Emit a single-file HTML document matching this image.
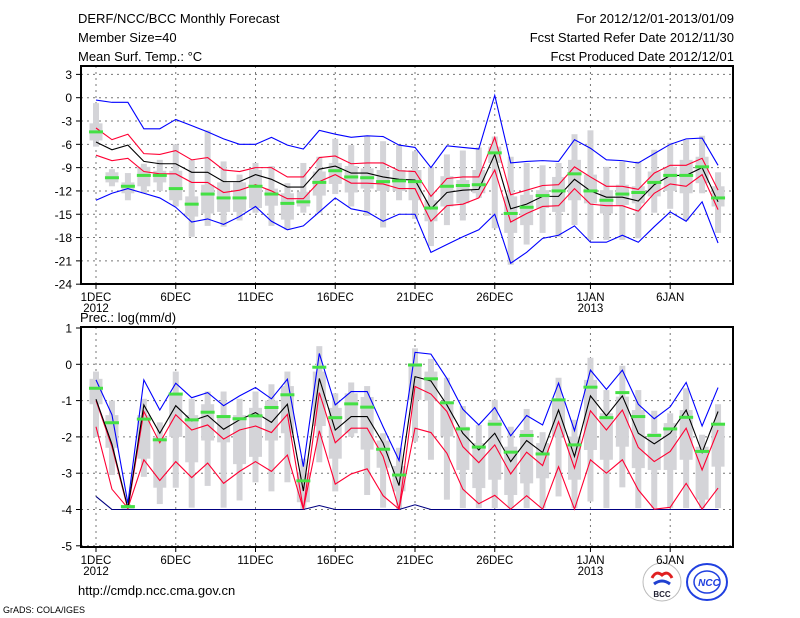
<!DOCTYPE html>
<html><head><meta charset="utf-8"><style>
html,body{margin:0;padding:0;background:#fff;}
svg{display:block;font-family:"Liberation Sans",sans-serif;}
</style></head><body>
<svg id="c" width="800" height="618" viewBox="0 0 800 618">
<text x="78" y="23" font-size="13">DERF/NCC/BCC Monthly Forecast</text>
<text x="78" y="42" font-size="13">Member Size=40</text>
<text x="78" y="61" font-size="13">Mean Surf. Temp.: °C</text>
<text x="734" y="23" font-size="13" text-anchor="end">For 2012/12/01-2013/01/09</text>
<text x="734" y="42" font-size="13" text-anchor="end">Fcst Started Refer Date 2012/11/30</text>
<text x="734" y="61" font-size="13" text-anchor="end">Fcst Produced Date 2012/12/01</text>
<text x="80" y="322" font-size="13">Prec.: log(mm/d)</text>
<text x="78" y="595" font-size="13">http://cmdp.ncc.cma.gov.cn</text>
<text x="3" y="613" font-size="9">GrADS: COLA/IGES</text>
<g>
<circle cx="662" cy="582" r="19" fill="#fff" stroke="#bbb"/>
<path d="M652 578 q4 -8 10 -3 q6 -5 10 3" fill="none" stroke="#e02020" stroke-width="3"/>
<path d="M654 584 q8 -6 16 0" fill="none" stroke="#2040d0" stroke-width="3"/>
<text x="662" y="597" font-size="8" font-weight="bold" text-anchor="middle" fill="#223">BCC</text>
</g>
<g>
<ellipse cx="707" cy="582" rx="20" ry="18" fill="#fff" stroke="#2040e0" stroke-width="2"/>
<ellipse cx="707" cy="582" rx="13" ry="11" fill="none" stroke="#2040e0" stroke-width="1.5"/>
<text x="709" y="586" font-size="10" font-style="italic" font-weight="bold" text-anchor="middle" fill="#2040e0">NCC</text>
</g>
</svg>
<script>
// ---------- Temperature data ----------
const days = ["1DEC","2","3","4","5","6DEC","7","8","9","10","11DEC","12","13","14","15","16DEC","17","18","19","20","21DEC","22","23","24","25","26DEC","27","28","29","30","31","1JAN","2","3","4","5","6JAN","7","8","9"];
const tMax = [-0.3,-0.6,-0.6,-4.0,-4.0,-2.8,-3.6,-4.4,-5.3,-6.0,-6.0,-5.1,-6.1,-6.6,-4.2,-4.7,-5.1,-4.9,-5.0,-6.1,-6.4,-9.0,-6.2,-6.4,-6.6,0.3,-8.4,-8.2,-8.1,-8.2,-5.4,-6.5,-8.0,-8.1,-8.4,-7.2,-6.0,-5.3,-5.2,-8.7];
const tUp = [-3.9,-5.4,-4.7,-7.2,-7.3,-6.8,-8.0,-7.7,-9.3,-9.5,-9.0,-9.0,-10.2,-10.2,-7.7,-7.5,-8.5,-8.4,-8.4,-9.4,-9.5,-12.7,-10.4,-10.2,-10.2,-5.1,-12.5,-11.9,-11.3,-11.2,-8.9,-10.2,-11.4,-11.4,-11.8,-9.7,-8.7,-8.7,-7.8,-11.9];
const tMean = [-5.7,-6.7,-6.1,-8.2,-8.5,-8.5,-9.6,-9.6,-10.8,-10.8,-9.9,-10.5,-11.5,-11.5,-9.2,-8.8,-9.7,-9.7,-10.2,-10.5,-10.6,-14.3,-12.2,-11.9,-11.8,-7.3,-14.3,-13.7,-12.7,-12.7,-10.5,-12.0,-12.8,-12.8,-13.3,-11.2,-10.0,-10.0,-9.0,-13.4];
const tLow = [-7.4,-8.1,-7.8,-9.5,-9.8,-9.8,-10.9,-10.9,-12.2,-11.9,-11.2,-12.0,-13.0,-13.0,-10.8,-9.9,-11.0,-11.0,-11.1,-11.7,-11.7,-15.9,-13.9,-13.7,-12.9,-9.3,-16.0,-14.9,-14.0,-13.9,-11.7,-13.7,-13.9,-13.9,-14.6,-12.3,-11.1,-11.4,-9.9,-14.4];
const tMin = [-13.2,-12.3,-11.7,-12.3,-12.9,-14.1,-16.0,-15.6,-16.3,-15.3,-14.0,-15.9,-17.0,-16.5,-14.7,-12.9,-14.3,-14.7,-15.9,-15.0,-15.0,-19.9,-18.9,-17.9,-17.0,-15.0,-21.3,-19.9,-18.1,-17.7,-16.5,-18.6,-18.6,-17.7,-18.6,-16.6,-14.7,-15.9,-13.4,-18.7];
const tObs = [-4.4,-10.3,-11.4,-10.0,-10.0,-11.7,-13.7,-12.4,-12.9,-12.9,-11.4,-12.4,-13.6,-13.4,-10.9,-9.4,-10.2,-10.3,-10.8,-10.7,-10.8,-14.2,-11.4,-11.3,-11.2,-7.1,-14.9,-14.1,-12.6,-12.0,-9.8,-12.0,-13.2,-12.4,-12.2,-10.9,-10.0,-10.0,-8.9,-12.9];
const tWhHi = [-0.7,-9.2,-9.7,-8.5,-8.0,-6.0,-8.0,-4.2,-8.2,-9.9,-8.4,-8.8,-11.0,-8.4,-7.6,-5.3,-6.1,-5.0,-5.6,-6.1,-6.9,-8.9,-7.3,-6.8,-6.4,-5.0,-7.6,-8.4,-8.7,-8.4,-4.7,-4.2,-8.9,-8.2,-8.2,-6.7,-5.8,-5.4,-4.9,-9.6];
const tWhLo = [-6.3,-11.4,-13.2,-12.3,-12.0,-14.0,-17.9,-16.5,-16.6,-15.8,-14.8,-16.5,-17.0,-14.8,-14.8,-12.4,-14.0,-15.2,-16.7,-13.2,-15.6,-19.1,-16.4,-15.8,-12.9,-16.8,-21.5,-18.9,-17.4,-17.9,-16.4,-18.3,-18.3,-18.3,-18.1,-14.8,-14.3,-15.8,-12.3,-17.4];
const tBxHi = [-3.3,-9.6,-10.9,-8.9,-9.4,-9.4,-12.7,-11.2,-10.9,-10.9,-9.3,-11.7,-12.3,-12.1,-9.5,-8.4,-8.8,-9.1,-9.3,-9.3,-9.3,-13.2,-10.1,-10.6,-9.3,-6.3,-12.7,-12.5,-11.9,-10.2,-8.0,-9.9,-11.9,-11.2,-11.4,-9.5,-8.9,-8.0,-7.6,-11.4];
const tBxLo = [-5.5,-10.9,-12.3,-11.4,-10.9,-13.2,-15.3,-14.9,-14.7,-14.7,-14.2,-13.9,-15.7,-14.0,-12.6,-11.1,-12.2,-11.7,-12.0,-12.0,-13.2,-15.9,-14.0,-13.6,-12.3,-8.4,-17.4,-16.4,-14.2,-14.7,-13.2,-13.6,-14.9,-13.8,-13.6,-12.7,-12.0,-12.3,-11.0,-14.0];
const tTicks = [3,0,-3,-6,-9,-12,-15,-18,-21,-24];
// ---------- Precipitation data ----------
const pMax = [-0.43,-1.39,-3.83,-0.43,-1.26,-0.52,-0.92,-0.78,-1.14,-0.87,-0.64,-0.95,-0.41,-2.82,0.3,-1.12,-0.75,-0.75,-1.72,-2.65,0.33,0.28,-0.39,-1.24,-1.67,-1.19,-1.97,-1.41,-1.67,-0.52,-1.83,-0.16,-0.69,-0.16,-1.1,-1.5,-1.17,-0.5,-1.7,-0.64];
const pUp = [-1.0,-2.27,-3.99,-1.3,-2.16,-1.39,-1.81,-1.67,-2.06,-1.81,-1.7,-1.88,-1.38,-3.99,-0.78,-2.16,-1.76,-1.76,-2.54,-3.99,-0.61,-0.82,-1.3,-2.27,-2.71,-2.22,-3.02,-2.42,-2.79,-1.58,-2.86,-1.28,-1.81,-1.26,-2.29,-2.68,-2.4,-1.76,-2.91,-1.81];
const pMean = [-0.96,-2.2,-3.96,-1.12,-1.9,-1.14,-1.56,-1.41,-1.79,-1.53,-1.33,-1.6,-1.1,-3.49,-0.39,-1.81,-1.44,-1.44,-2.17,-3.34,-0.34,-0.46,-1.12,-1.9,-2.36,-1.9,-2.68,-2.1,-2.43,-1.26,-2.54,-0.87,-1.42,-0.87,-1.9,-2.19,-1.9,-1.26,-2.43,-1.3];
const pLow = [-1.72,-3.44,-3.96,-2.63,-3.2,-2.68,-3.12,-2.72,-3.28,-2.95,-2.68,-2.95,-2.5,-3.99,-1.83,-3.3,-3.02,-2.88,-3.62,-3.99,-1.76,-1.88,-2.45,-3.44,-3.84,-3.61,-3.99,-3.62,-3.99,-2.82,-3.99,-2.63,-3.0,-2.63,-3.46,-3.99,-3.94,-3.28,-3.99,-3.41];
const pMin = [-3.64,-4,-4,-4,-4,-4,-4,-4,-4,-4,-4,-4,-4,-4,-3.89,-4,-4,-4,-4,-4,-3.87,-4,-4,-4,-4,-4,-4,-4,-4,-4,-4,-4,-4,-4,-4,-4,-4,-4,-4,-4];
const pObs = [-0.66,-1.61,-3.92,-1.51,-2.08,-0.82,-1.53,-1.32,-1.44,-1.5,-1.42,-1.19,-0.84,-3.21,-0.08,-1.47,-1.09,-1.18,-2.34,-3.05,-0.02,-0.4,-1.06,-1.78,-2.28,-1.65,-2.42,-1.96,-2.47,-0.98,-2.22,-0.63,-1.47,-0.78,-1.44,-1.96,-1.78,-1.46,-2.4,-1.65];
const pWhHi = [-0.2,-1.0,-3.85,-0.95,-1.6,-0.2,-0.95,-0.75,-0.75,-0.95,-0.75,-0.55,-0.2,-2.6,0.5,-0.8,-0.5,-0.6,-1.9,-2.3,0.44,0.15,-0.37,-1.15,-1.67,-0.98,-1.72,-1.23,-1.87,-0.37,-1.53,0.18,-0.71,-0.04,-0.71,-1.28,-1.35,-0.66,-1.94,-1.1];
const pWhLo = [-2.0,-3.05,-4.0,-3.1,-3.85,-3.4,-3.95,-3.35,-3.95,-3.75,-3.25,-3.5,-3.25,-4.0,-2.7,-3.5,-2.0,-3.6,-3.95,-4.0,-2.13,-2.63,-3.73,-3.96,-3.96,-3.96,-3.96,-3.96,-3.96,-3.64,-3.96,-3.78,-3.96,-3.39,-3.96,-3.96,-3.96,-3.96,-3.96,-3.96];
const pBxHi = [-0.4,-1.4,-3.9,-1.4,-2.0,-0.8,-1.4,-1.1,-1.4,-1.4,-1.2,-1.0,-0.6,-3.0,-0.2,-1.2,-0.8,-0.9,-2.1,-2.8,0.03,-0.2,-1.07,-1.72,-2.17,-1.53,-2.27,-1.81,-2.17,-0.98,-1.99,-0.43,-1.35,-0.89,-1.26,-1.9,-1.62,-1.26,-2.27,-1.62];
const pBxLo = [-1.1,-2.3,-4.0,-2.6,-3.4,-2.0,-2.7,-2.1,-2.15,-2.75,-2.55,-2.1,-1.9,-3.8,-1.7,-2.6,-1.9,-2.35,-2.85,-3.5,-0.98,-1.0,-1.99,-2.91,-3.41,-3.18,-3.6,-3.28,-3.14,-1.99,-3.18,-2.36,-2.63,-2.27,-2.86,-2.91,-2.91,-2.63,-3.73,-2.82];
const pTicks = [1,0,-1,-2,-3,-4,-5];
const xLabels = [[0,"1DEC","2012"],[5,"6DEC",""],[10,"11DEC",""],[15,"16DEC",""],[20,"21DEC",""],[25,"26DEC",""],[31,"1JAN","2013"],[36,"6JAN",""]];

const NS="http://www.w3.org/2000/svg";
const svg=document.getElementById('c');
function mk(tag,attrs,parent){const e=document.createElementNS(NS,tag);for(const k in attrs)e.setAttribute(k,attrs[k]);(parent||svg).appendChild(e);return e;}
const xS=i=>96+i*15.95;

function panel(cfg){
  const g=mk('g',{});
  
  
  const y=cfg.y;
  cfg.ticks.forEach(t=>{
    const yy=y(t);
    if(yy>cfg.top+1&&yy<cfg.bot-1){const l=mk('line',{x1:81,x2:733,y1:yy,y2:yy,stroke:'#777','stroke-dasharray':'2,4','stroke-width':1},g);
    
    }
    const tk=mk('line',{x1:76,x2:81,y1:yy,y2:yy,stroke:'#000'},g);
    
    
    const tx=mk('text',{x:72,y:yy+4.5,'font-size':12,'text-anchor':'end'},g);
    tx.textContent=t;
    
    
  });
  xLabels.forEach(([i,a,b])=>{
    const xx=xS(i);
    const l=mk('line',{x1:xx,x2:xx,y1:cfg.top,y2:cfg.bot,stroke:'#777','stroke-dasharray':'2,4'},g);
    
    
    const tk=mk('line',{x1:xx,x2:xx,y1:cfg.bot,y2:cfg.bot+5,stroke:'#000'},g);
    
    
    const t=mk('text',{x:xx,y:cfg.bot+17,'font-size':11.5,'text-anchor':'middle'},g);t.textContent=a;
    
    
    if(b){const t2=mk('text',{x:xx,y:cfg.bot+28,'font-size':11.5,'text-anchor':'middle'},g);t2.textContent=b;
    
    }
  });
  days.forEach((d,i)=>{
    const xx=xS(i);
    const w=mk('rect',{x:xx-3,width:6,y:y(cfg.whHi[i]),height:Math.max(1,y(cfg.whLo[i])-y(cfg.whHi[i])),fill:'#d4d4d8'},g);
    
    
    const b=mk('rect',{x:xx-6.5,width:13,y:y(cfg.bxHi[i]),height:Math.max(1,y(cfg.bxLo[i])-y(cfg.bxHi[i])),fill:'#d4d4d8'},g);
    
    
  });
  [[cfg.max,'#0000ff','max-line'],[cfg.min,cfg.minCol,'min-line'],[cfg.up,'#ff0033','upper-line'],[cfg.low,'#ff0033','lower-line'],[cfg.mean,'#000','mean-line']].forEach(([arr,col,nm])=>{
    const p=mk('polyline',{points:arr.map((v,i)=>xS(i)+','+y(v)).join(' '),fill:'none',stroke:col,'stroke-width':1.1},g);
    
    
  });
  cfg.obs.forEach((v,i)=>{
    const r=mk('rect',{x:xS(i)-7,width:14,y:y(v)-1.5,height:3,fill:'#44e044'},g);
    
    
  });
  const f=mk('rect',{x:81,y:cfg.top,width:652,height:cfg.bot-cfg.top,fill:'none',stroke:'#000','stroke-width':2},g);
  
  
}
panel({name:'temperature-panel',top:66,bot:284,y:v=>97.7-v*7.77,ticks:tTicks,max:tMax,up:tUp,mean:tMean,low:tLow,min:tMin,minCol:'#0000ff',obs:tObs,whHi:tWhHi,whLo:tWhLo,bxHi:tBxHi,bxLo:tBxLo});
panel({name:'precip-panel',top:327,bot:547,y:v=>364.3-v*36.3,ticks:pTicks,max:pMax,up:pUp,mean:pMean,low:pLow,min:pMin,minCol:'#000080',obs:pObs,whHi:pWhHi,whLo:pWhLo,bxHi:pBxHi,bxLo:pBxLo});
</script>
</body></html>
